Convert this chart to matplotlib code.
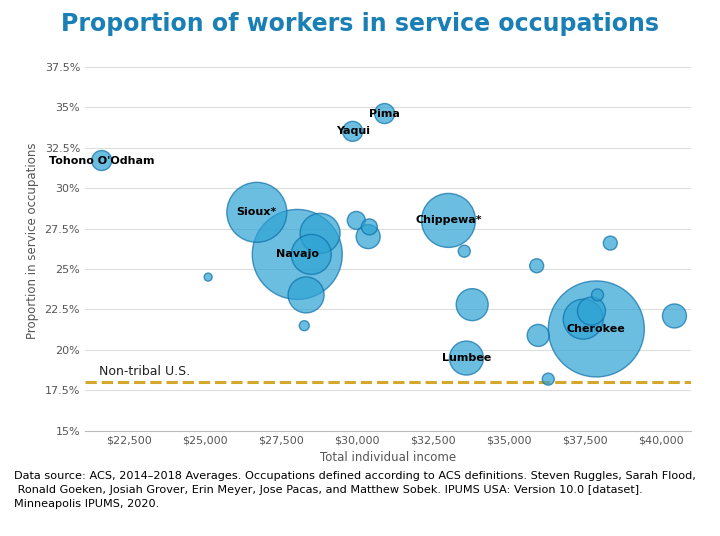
import numpy as np
import matplotlib.pyplot as plt

income = [21600, 30900, 29850, 26700, 28030, 28780, 28490, 28320, 25100, 28260,
          29970, 30400, 30360, 33000, 33520, 33780, 33590, 35900, 35950, 36280,
          38320, 40430, 37860, 37430, 37700, 37900]
share = [31.7, 34.6, 33.5, 28.5, 25.9, 27.2, 25.9, 23.4, 24.5, 21.5,
         28.0, 27.6, 27.0, 28.0, 26.1, 22.8, 19.5, 25.2, 20.9, 18.2,
         26.6, 22.1, 21.3, 21.9, 22.4, 23.4]
radius = [10, 10, 10, 30, 45, 20, 20, 18, 4, 5,
          9, 8, 12, 27, 6, 16, 17, 7, 11, 6,
          7, 12, 48, 20, 14, 6]
labels = {0: "Tohono O'Odham", 1: "Pima", 2: "Yaqui", 3: "Sioux*", 4: "Navajo",
          13: "Chippewa*", 16: "Lumbee", 22: "Cherokee"}
baseline = 18.0

fig = plt.figure(figsize=(7.2, 5.36), dpi=100)
ax = fig.add_axes([0.118, 0.196, 0.842, 0.71])

order = np.argsort(radius)[::-1]
s = [(1.44 * radius[i]) ** 2 for i in order]
ax.scatter([income[i] for i in order], [share[i] for i in order], s=s,
           facecolor="#2ea3d4", alpha=0.7, edgecolor="#0b6fa8", linewidth=1, zorder=3)
for i, t in labels.items():
    ax.text(income[i], share[i], t, ha="center", va="center", fontsize=8,
            fontweight="bold", color="black", zorder=5)

ax.axhline(baseline, color="#d4a82a", lw=2.2, ls="--", zorder=2)
ax.text(21500, baseline + 0.25, "Non-tribal U.S.", fontsize=9, va="bottom", color="#222222")

ax.set_xlim(21050, 40980)
ax.set_ylim(15, 38.5)
ax.set_xticks(np.arange(22500, 40001, 2500))
ax.set_xticklabels([f"${v:,}" for v in range(22500, 40001, 2500)])
yt = np.arange(15, 37.6, 2.5)
ax.set_yticks(yt)
ax.set_yticklabels([f"{v:g}%" for v in yt])
ax.tick_params(labelsize=8, colors="#555555", length=0)
ax.grid(axis="y", color="#dddddd", lw=0.8, zorder=0)
for sp in ["top", "right", "left"]:
    ax.spines[sp].set_visible(False)
ax.spines["bottom"].set_color("#bbbbbb")
ax.set_xlabel("Total individual income", fontsize=8.5, color="#555555")
ax.set_ylabel("Proportion in service occupations", fontsize=8.5, color="#555555")

fig.text(0.5, 0.955, "Proportion of workers in service occupations", ha="center",
         va="center", fontsize=17, fontweight="bold", color="#1a7fb5")
fig.text(0.02, 0.085, "Data source: ACS, 2014\u20132018 Averages. Occupations defined according to ACS definitions. Steven Ruggles, Sarah Flood,\n"
         " Ronald Goeken, Josiah Grover, Erin Meyer, Jose Pacas, and Matthew Sobek. IPUMS USA: Version 10.0 [dataset].\n"
         "Minneapolis IPUMS, 2020.", fontsize=8.1, va="center", linespacing=1.5)

fig.savefig("out.png", dpi=100)
